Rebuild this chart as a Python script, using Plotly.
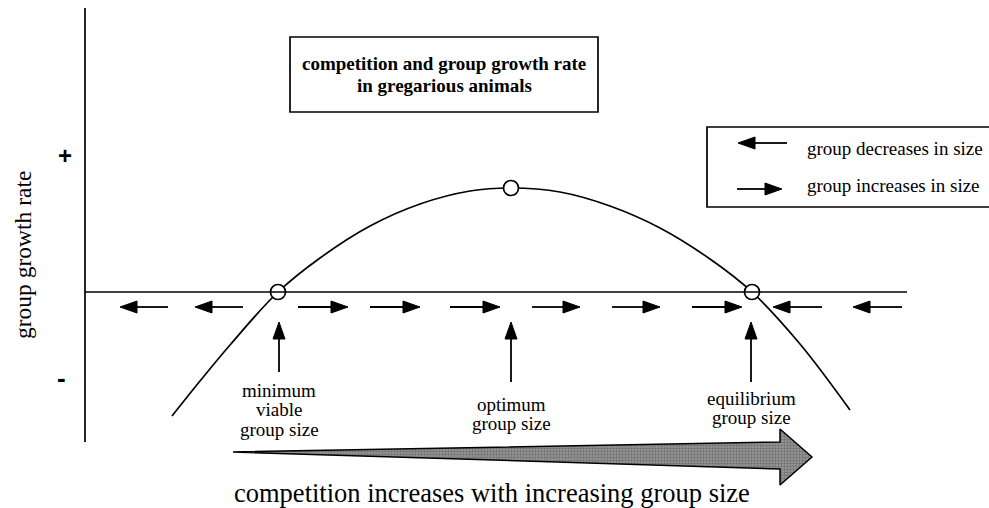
import plotly.graph_objects as go

# ---- data (x = group size units, y = group growth rate; 0 = zero growth) ----
curve_x = [172, 200, 230, 278, 320, 370, 420, 470, 511, 560, 610, 660, 710, 752, 800, 850]
curve_y = [-124, -89, -53, 0, 34, 66, 88, 101, 104, 100, 86, 64, 33, 0, -52, -118]

point_x = [278, 511, 752]
point_y = [0, 104, 0]

arrow_row_y = -15
left_arrow_tips = [120, 195, 773, 853]
left_arrow_tails = [168, 243, 822, 902]
right_arrow_tails = [298, 370, 450, 532, 612, 692]
right_arrow_tips = [348, 420, 500, 580, 660, 742]

marker_x = [279, 511, 751]
marker_tail_y = [-80, -90, -90]
marker_tip_y = [-30, -30, -30]
marker_label_lines = [["minimum", "viable", "group size"], ["optimum", "group size"], ["equilibrium", "group size"]]
marker_label_top_y = [-98, -112, -106]
LABEL_STEP = 19.5

axis_x0, axis_x1 = 85, 907
axis_y0, axis_y1 = -150, 284

big_arrow_x = [233, 780, 780, 812, 780, 780, 233]
big_arrow_y = [-160, -150, -137, -165, -193, -177, -160]

title_lines = ["competition and group growth rate", "in gregarious animals"]
title_y = [229, 207]
legend_texts = ["group decreases in size", "group increases in size"]
legend_text_y = [144, 107]
xlabel_text = "competition increases with increasing group size"
ylabel_text = "group growth rate"

FONT = "Liberation Serif, Times New Roman, serif"
HEAD_LEN = 17
HEAD_HALF = 6

fig = go.Figure()

# main curve
fig.add_trace(go.Scatter(x=curve_x, y=curve_y, mode="lines",
                         line=dict(color="black", width=1.7, shape="spline", smoothing=1.0),
                         hoverinfo="skip", showlegend=False))

# big shaded arrow
fig.add_trace(go.Scatter(x=big_arrow_x, y=big_arrow_y, mode="lines", fill="toself",
                         fillcolor="#858585", line=dict(color="black", width=1.5),
                         fillpattern=dict(shape=".", fgcolor="#4a4a4a", bgcolor="#9a9a9a", size=3, solidity=0.5),
                         hoverinfo="skip", showlegend=False))

shapes = []
# axes
shapes.append(dict(type="line", x0=axis_x0, x1=axis_x0, y0=axis_y0, y1=axis_y1, line=dict(color="black", width=1.7)))
shapes.append(dict(type="line", x0=axis_x0, x1=axis_x1, y0=0, y1=0, line=dict(color="black", width=1.7)))


def h_arrow(tail, tip, y):
    d = 1 if tip > tail else -1
    base = tip - d * HEAD_LEN
    shapes.append(dict(type="line", x0=tail, x1=base, y0=y, y1=y, line=dict(color="black", width=1.8)))
    shapes.append(dict(type="path", path=f"M {tip} {y} L {base} {y + HEAD_HALF} L {base} {y - HEAD_HALF} Z",
                       fillcolor="black", line=dict(color="black", width=1)))


def v_arrow(x, tail, tip):
    base = tip - HEAD_LEN
    shapes.append(dict(type="line", x0=x, x1=x, y0=tail, y1=base, line=dict(color="black", width=1.8)))
    shapes.append(dict(type="path", path=f"M {x} {tip} L {x - HEAD_HALF} {base} L {x + HEAD_HALF} {base} Z",
                       fillcolor="black", line=dict(color="black", width=1)))


for tip, tail in zip(left_arrow_tips, left_arrow_tails):
    h_arrow(tail, tip, arrow_row_y)
for tail, tip in zip(right_arrow_tails, right_arrow_tips):
    h_arrow(tail, tip, arrow_row_y)
for x, t0, t1 in zip(marker_x, marker_tail_y, marker_tip_y):
    v_arrow(x, t0, t1)

# title box and legend box
shapes.append(dict(type="rect", x0=290, x1=598, y0=180, y1=255, line=dict(color="black", width=1.7), fillcolor="rgba(0,0,0,0)"))
shapes.append(dict(type="rect", x0=707, x1=992, y0=85, y1=165, line=dict(color="black", width=1.7), fillcolor="rgba(0,0,0,0)"))
h_arrow(787, 738, 149)
h_arrow(737, 782, 103)

# equilibrium points
fig.add_trace(go.Scatter(x=point_x, y=point_y, mode="markers",
                         marker=dict(size=15, color="white", line=dict(color="black", width=1.7)),
                         hoverinfo="skip", showlegend=False))

annotations = []
for line, ty in zip(title_lines, title_y):
    annotations.append(dict(x=444, y=ty, text="<b>" + line + "</b>", showarrow=False,
                            font=dict(family=FONT, size=19, color="black")))
for txt, ty in zip(legend_texts, legend_text_y):
    annotations.append(dict(x=805, y=ty, text=txt, showarrow=False, xanchor="left",
                            font=dict(family=FONT, size=19, color="black")))
for x, lines, top in zip(marker_x, marker_label_lines, marker_label_top_y):
    for i, line in enumerate(lines):
        annotations.append(dict(x=x, y=top - i * LABEL_STEP, text=line, showarrow=False,
                                font=dict(family=FONT, size=19, color="black")))
annotations.append(dict(x=492, y=-201, text=xlabel_text, showarrow=False,
                        font=dict(family=FONT, size=26.5, color="black")))
annotations.append(dict(x=23, y=37, text=ylabel_text, showarrow=False, textangle=-90,
                        font=dict(family=FONT, size=23.5, color="black")))
annotations.append(dict(x=65, y=137, text="<b>+</b>", showarrow=False,
                        font=dict(family="Liberation Sans, Arial, sans-serif", size=24, color="black")))
annotations.append(dict(x=61, y=-86, text="<b>-</b>", showarrow=False,
                        font=dict(family="Liberation Sans, Arial, sans-serif", size=26, color="black")))

fig.update_layout(
    width=989, height=508,
    margin=dict(l=0, r=0, t=0, b=0),
    paper_bgcolor="white", plot_bgcolor="white",
    xaxis=dict(range=[0, 989], visible=False, fixedrange=True),
    yaxis=dict(range=[-216, 292], visible=False, fixedrange=True),
    shapes=shapes, annotations=annotations,
    showlegend=False,
)

fig.write_html("out.html", config={"displayModeBar": False},
               post_script="document.body.style.margin='0px';document.body.style.overflow='hidden';")
